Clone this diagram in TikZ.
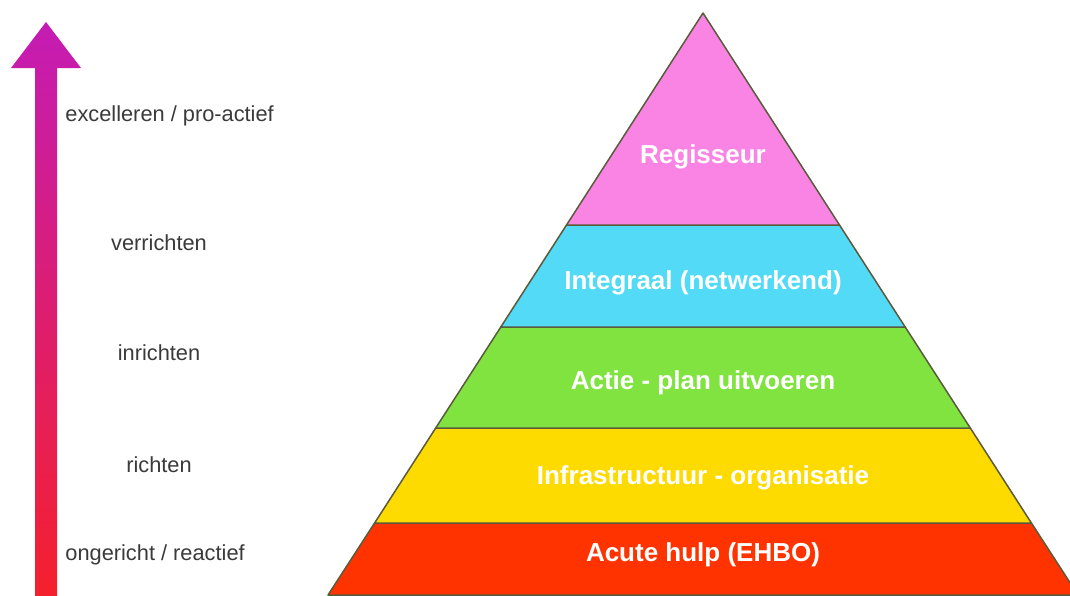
\documentclass[tikz,border=0pt]{standalone}
\usepackage{fontspec}
\setmainfont{Liberation Sans}
\definecolor{edgecol}{HTML}{5A5A3C}
\definecolor{pinkL}{HTML}{F984E3}
\definecolor{blueL}{HTML}{52DAF6}
\definecolor{greenL}{HTML}{80E33F}
\definecolor{yellowL}{HTML}{FDDB00}
\definecolor{redL}{HTML}{FF3300}
\definecolor{arrTop}{HTML}{C41CB4}
\definecolor{arrBot}{HTML}{F5202C}
\definecolor{labelgray}{HTML}{3A3A3A}
\tikzset{
  layer/.style={draw=edgecol, line width=0.75pt, line join=round},
  lvl/.style={text=white, font=\bfseries\fontsize{13}{15}\selectfont, inner sep=0pt},
  side/.style={text=labelgray, font=\fontsize{10.9}{13}\selectfont, inner sep=0pt},
}
\begin{document}
\begin{tikzpicture}[x=0.5pt,y=-0.5pt]
\useasboundingbox (0,0) rectangle (1070,595);
\clip (0,0) rectangle (1070,595);
% gradient arrow
\shade[top color=arrTop, bottom color=arrBot]
  (35,600) -- (35,68) -- (11,68) -- (46,22) -- (81,68) -- (57,68) -- (57,600) -- cycle;
% pyramid layers (apex 703,13; slope 0.644)
\coordinate (apex) at (703,13);
\path[layer, fill=redL]    (374.6,523) -- (1031.4,523) -- (1078,595) -- (328,595) -- cycle;
\path[layer, fill=yellowL] (435.7,428) -- (970.3,428) -- (1031.4,523) -- (374.6,523) -- cycle;
\path[layer, fill=greenL]  (500.8,327) -- (905.2,327) -- (970.3,428) -- (435.7,428) -- cycle;
\path[layer, fill=blueL]   (566.5,225) -- (839.5,225) -- (905.2,327) -- (500.8,327) -- cycle;
\path[layer, fill=pinkL]   (apex) -- (839.5,225) -- (566.5,225) -- cycle;
% level texts
\node[lvl] (regisseur) at (703,157) {Regisseur};
\node[lvl] (integraal) at (703,283) {Integraal (netwerkend)};
\node[lvl] (actie) at (703,383) {Actie - plan uitvoeren};
\node[lvl] (infra) at (703,478) {Infrastructuur - organisatie};
\node[lvl] (acute) at (703,555) {Acute hulp (EHBO)};
% side labels
\node[side, anchor=west] (excel) at (65,116) {excelleren / pro-actief};
\node[side] (verricht) at (159,243) {verrichten};
\node[side] (inricht) at (159,353) {inrichten};
\node[side] (richt) at (159,465) {richten};
\node[side, anchor=west] (onger) at (65,555) {ongericht / reactief};
\end{tikzpicture}
\end{document}
